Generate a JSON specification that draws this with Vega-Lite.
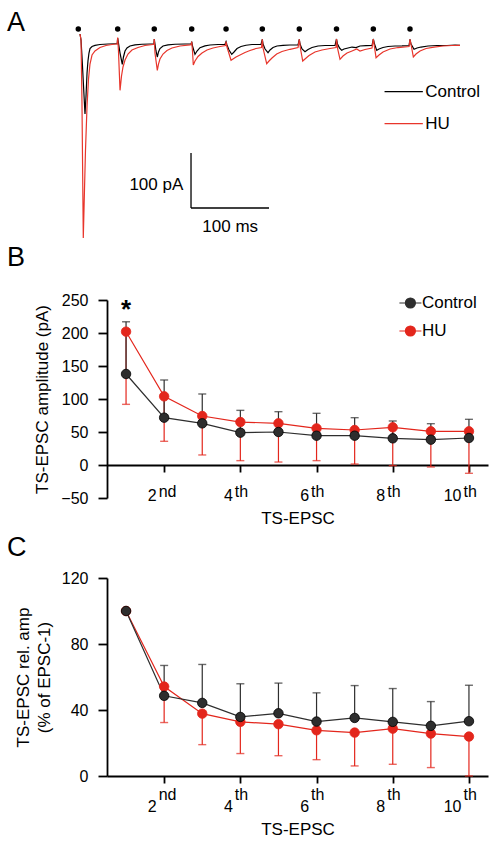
{
  "$schema": "https://vega.github.io/schema/vega-lite/v6.json",
  "background": "white",
  "padding": {"left": 7, "top": 9, "right": 5, "bottom": 3},
  "bounds": "flush",
  "spacing": 80,
  "resolve": {"scale": {"color": "independent"}, "legend": {"color": "independent"}},
  "config": {
    "view": {"stroke": null},
    "font": "Liberation Sans",
    "axis": {"grid": false, "domainColor": "#000", "tickColor": "#000", "labelColor": "#000", "titleColor": "#000", "labelFont": "Liberation Sans", "titleFont": "Liberation Sans", "labelFontSize": 16, "titleFontSize": 17, "titleFontWeight": "normal", "domainWidth": 1.8, "tickWidth": 1.8, "labelFlush": false, "labelOverlap": false},
    "legend": {"labelFont": "Liberation Sans", "labelFontSize": 17, "labelColor": "#000", "symbolOpacity": 1},
    "title": {"font": "Liberation Sans", "fontSize": 27, "fontWeight": "normal", "color": "#000", "anchor": "start", "frame": "group", "offset": 0, "baseline": "alphabetic"},
    "text": {"font": "Liberation Sans", "color": "#000"}
  },
  "datasets": {
    "trace": [
      {"g":"Control","t":2.2,"i":18.2},{"g":"Control","t":3.5,"i":7.3},{"g":"Control","t":4.7,"i":-21.8},{"g":"Control","t":6.7,"i":-76.4},{"g":"Control","t":8.6,"i":-127.3},{"g":"Control","t":9.9,"i":-94.5},{"g":"Control","t":11.2,"i":-52.7},{"g":"Control","t":12.4,"i":-30.9},{"g":"Control","t":13.7,"i":-16.4},{"g":"Control","t":15.0,"i":-8.2},{"g":"Control","t":17.6,"i":-4.5},{"g":"Control","t":21.4,"i":-2.4},{"g":"Control","t":27.8,"i":-0.9},{"g":"Control","t":38.1,"i":0},{"g":"Control","t":48.3,"i":0.5},
      {"g":"Control","t":49.9,"i":0.5},{"g":"Control","t":50.5,"i":10.9},{"g":"Control","t":51.5,"i":1.8},{"g":"Control","t":53.5,"i":-16.4},{"g":"Control","t":56.4,"i":-36.9},{"g":"Control","t":57.9,"i":-23.6},{"g":"Control","t":59.9,"i":-12.7},{"g":"Control","t":62.4,"i":-7.3},{"g":"Control","t":66.3,"i":-3.6},{"g":"Control","t":72.7,"i":-1.5},{"g":"Control","t":81.7,"i":-0.4},{"g":"Control","t":91.9,"i":0},{"g":"Control","t":97.0,"i":0},
      {"g":"Control","t":97.4,"i":9.1},{"g":"Control","t":98.3,"i":0},{"g":"Control","t":99.6,"i":-12.7},{"g":"Control","t":101.3,"i":-23.6},{"g":"Control","t":102.8,"i":-14.5},{"g":"Control","t":104.7,"i":-8.2},{"g":"Control","t":108.6,"i":-3.6},{"g":"Control","t":115.0,"i":-1.5},{"g":"Control","t":124.0,"i":-0.4},{"g":"Control","t":136.8,"i":0},{"g":"Control","t":144.5,"i":0},
      {"g":"Control","t":144.7,"i":0},{"g":"Control","t":145.4,"i":4.2},{"g":"Control","t":146.4,"i":-3.6},{"g":"Control","t":149.6,"i":-18.7},{"g":"Control","t":152.2,"i":-12.7},{"g":"Control","t":156.0,"i":-6.7},{"g":"Control","t":162.4,"i":-3.3},{"g":"Control","t":168.8,"i":-1.8},{"g":"Control","t":179.1,"i":-0.9},{"g":"Control","t":188.1,"i":-0.5},
      {"g":"Control","t":189.4,"i":4.2},{"g":"Control","t":190.6,"i":-1.8},{"g":"Control","t":193.2,"i":-10.9},{"g":"Control","t":196.7,"i":-18.7},{"g":"Control","t":199.6,"i":-14.5},{"g":"Control","t":203.5,"i":-8.2},{"g":"Control","t":208.6,"i":-4.5},{"g":"Control","t":215.0,"i":-2.2},{"g":"Control","t":222.7,"i":-0.9},{"g":"Control","t":234.2,"i":-0.9},
      {"g":"Control","t":235.9,"i":8.5},{"g":"Control","t":236.8,"i":0},{"g":"Control","t":239.4,"i":-9.1},{"g":"Control","t":243.2,"i":-15.8},{"g":"Control","t":245.8,"i":-10.9},{"g":"Control","t":249.6,"i":-6.4},{"g":"Control","t":254.7,"i":-3.6},{"g":"Control","t":262.4,"i":-2.4},{"g":"Control","t":271.4,"i":-1.8},{"g":"Control","t":281.7,"i":-1.8},
      {"g":"Control","t":283.3,"i":8.5},{"g":"Control","t":284.2,"i":0},{"g":"Control","t":286.8,"i":-9.1},{"g":"Control","t":290.6,"i":-14},{"g":"Control","t":294.5,"i":-10},{"g":"Control","t":299.6,"i":-6.4},{"g":"Control","t":307.3,"i":-3.6},{"g":"Control","t":316.3,"i":-2.7},{"g":"Control","t":329.1,"i":-2.4},
      {"g":"Control","t":331.0,"i":9.1},{"g":"Control","t":332.3,"i":0},{"g":"Control","t":334.9,"i":-7.3},{"g":"Control","t":337.7,"i":-11.5},{"g":"Control","t":340.6,"i":-9.1},{"g":"Control","t":345.8,"i":-7.3},{"g":"Control","t":350.9,"i":-5.5},{"g":"Control","t":356.0,"i":-6.4},{"g":"Control","t":361.1,"i":-3.6},{"g":"Control","t":368.8,"i":-3.1},{"g":"Control","t":376.5,"i":-2.7},
      {"g":"Control","t":378.2,"i":9.1},{"g":"Control","t":379.7,"i":0},{"g":"Control","t":382.6,"i":-11.5},{"g":"Control","t":385.5,"i":-9.1},{"g":"Control","t":390.6,"i":-6.4},{"g":"Control","t":397.0,"i":-4.5},{"g":"Control","t":406.0,"i":-3.6},{"g":"Control","t":415.0,"i":-3.3},{"g":"Control","t":424.0,"i":-2.7},
      {"g":"Control","t":425.2,"i":8.5},{"g":"Control","t":426.5,"i":0},{"g":"Control","t":430.4,"i":-9.6},{"g":"Control","t":434.2,"i":-7.3},{"g":"Control","t":439.3,"i":-5.5},{"g":"Control","t":448.3,"i":-3.6},{"g":"Control","t":459.9,"i":-2.7},{"g":"Control","t":472.7,"i":-2.7},{"g":"Control","t":482.9,"i":-1.8},{"g":"Control","t":489.3,"i":-2.4},
      {"g":"HU","t":2.2,"i":18.2},{"g":"HU","t":3.5,"i":7.3},{"g":"HU","t":4.7,"i":-103.6},{"g":"HU","t":6.4,"i":-352.7},{"g":"HU","t":7.9,"i":-267.2},{"g":"HU","t":9.2,"i":-194.5},{"g":"HU","t":11.2,"i":-112.7},{"g":"HU","t":13.1,"i":-63.6},{"g":"HU","t":15.0,"i":-36.4},{"g":"HU","t":17.6,"i":-20},{"g":"HU","t":21.4,"i":-12.7},{"g":"HU","t":27.8,"i":-6.4},{"g":"HU","t":35.5,"i":-2.7},{"g":"HU","t":43.2,"i":-0.9},{"g":"HU","t":48.3,"i":0},
      {"g":"HU","t":49.9,"i":0},{"g":"HU","t":50.5,"i":11.8},{"g":"HU","t":51.5,"i":-12.7},{"g":"HU","t":53.5,"i":-84.2},{"g":"HU","t":55.4,"i":-58.2},{"g":"HU","t":57.3,"i":-41.8},{"g":"HU","t":59.9,"i":-29.1},{"g":"HU","t":63.7,"i":-18.2},{"g":"HU","t":68.8,"i":-10.9},{"g":"HU","t":76.5,"i":-6.4},{"g":"HU","t":85.5,"i":-2.7},{"g":"HU","t":95.8,"i":-0.9},
      {"g":"HU","t":96.8,"i":-0.9},{"g":"HU","t":97.4,"i":9.1},{"g":"HU","t":98.3,"i":-16.4},{"g":"HU","t":101.3,"i":-47.8},{"g":"HU","t":102.8,"i":-36.4},{"g":"HU","t":104.7,"i":-27.3},{"g":"HU","t":108.6,"i":-18.2},{"g":"HU","t":113.7,"i":-11.8},{"g":"HU","t":120.1,"i":-7.3},{"g":"HU","t":130.4,"i":-3.6},{"g":"HU","t":143.2,"i":-1.5},
      {"g":"HU","t":144.7,"i":-0.9},{"g":"HU","t":145.4,"i":4.2},{"g":"HU","t":146.4,"i":-12.7},{"g":"HU","t":147.4,"i":-38.2},{"g":"HU","t":149.6,"i":-30.9},{"g":"HU","t":153.5,"i":-22.7},{"g":"HU","t":158.6,"i":-16.4},{"g":"HU","t":165.0,"i":-10.9},{"g":"HU","t":172.7,"i":-7.3},{"g":"HU","t":181.7,"i":-4.5},{"g":"HU","t":188.7,"i":-2.7},
      {"g":"HU","t":189.4,"i":4.2},{"g":"HU","t":190.6,"i":-5.5},{"g":"HU","t":195.8,"i":-29.6},{"g":"HU","t":198.3,"i":-27.3},{"g":"HU","t":202.2,"i":-23.6},{"g":"HU","t":207.3,"i":-20},{"g":"HU","t":213.7,"i":-15.5},{"g":"HU","t":220.1,"i":-11.8},{"g":"HU","t":227.8,"i":-8.2},{"g":"HU","t":234.9,"i":-6.4},
      {"g":"HU","t":235.9,"i":8.5},{"g":"HU","t":236.8,"i":-7.3},{"g":"HU","t":241.5,"i":-35.8},{"g":"HU","t":244.5,"i":-30.9},{"g":"HU","t":248.3,"i":-25.5},{"g":"HU","t":254.3,"i":-18.2},{"g":"HU","t":261.1,"i":-13.6},{"g":"HU","t":271.4,"i":-9.6},{"g":"HU","t":281.7,"i":-6.4},
      {"g":"HU","t":283.3,"i":8.5},{"g":"HU","t":284.9,"i":-9.1},{"g":"HU","t":287.7,"i":-30.9},{"g":"HU","t":290.6,"i":-27.3},{"g":"HU","t":295.8,"i":-20.9},{"g":"HU","t":303.4,"i":-14.5},{"g":"HU","t":312.4,"i":-10.9},{"g":"HU","t":322.7,"i":-8.2},{"g":"HU","t":330.4,"i":-6.4},
      {"g":"HU","t":331.0,"i":9.1},{"g":"HU","t":332.3,"i":-7.3},{"g":"HU","t":335.5,"i":-27.8},{"g":"HU","t":339.3,"i":-21.8},{"g":"HU","t":344.5,"i":-16.4},{"g":"HU","t":350.9,"i":-12.7},{"g":"HU","t":356.9,"i":-9.1},{"g":"HU","t":361.1,"i":-12.7},{"g":"HU","t":367.5,"i":-10},{"g":"HU","t":376.5,"i":-7.3},
      {"g":"HU","t":378.2,"i":9.1},{"g":"HU","t":379.7,"i":-5.5},{"g":"HU","t":381.7,"i":-24.9},{"g":"HU","t":385.5,"i":-20},{"g":"HU","t":390.6,"i":-14.5},{"g":"HU","t":399.6,"i":-9.1},{"g":"HU","t":409.9,"i":-6.4},{"g":"HU","t":424.0,"i":-4.5},
      {"g":"HU","t":425.2,"i":8.5},{"g":"HU","t":427.2,"i":-5.5},{"g":"HU","t":429.5,"i":-23.6},{"g":"HU","t":432.9,"i":-18.2},{"g":"HU","t":438.1,"i":-12.7},{"g":"HU","t":445.8,"i":-8.2},{"g":"HU","t":456.0,"i":-5.5},{"g":"HU","t":467.6,"i":-3.6},{"g":"HU","t":479.1,"i":-2.7},{"g":"HU","t":489.3,"i":-2.4}
    ],
    "stim": [{"s":0},{"s":50.5},{"s":97.4},{"s":145.4},{"s":189.4},{"s":235.9},{"s":283.3},{"s":331.0},{"s":378.2},{"s":425.2}],
    "amp": [
      {"n":1,"g":"HU","m":202,"e":91.9},{"n":2,"g":"HU","m":104,"e":35.9},{"n":3,"g":"HU","m":74.2,"e":15.2},{"n":4,"g":"HU","m":65.1,"e":6.6},{"n":5,"g":"HU","m":63.1,"e":4.5},{"n":6,"g":"HU","m":55.5,"e":6.6},{"n":7,"g":"HU","m":53,"e":1.5},{"n":8,"g":"HU","m":57.1,"e":-1},{"n":9,"g":"HU","m":51,"e":-3},{"n":10,"g":"HU","m":51,"e":-12.6},
      {"n":1,"g":"Control","m":137.9,"e":217},{"n":2,"g":"Control","m":71.7,"e":128.8},{"n":3,"g":"Control","m":63.1,"e":107.6},{"n":4,"g":"Control","m":49,"e":82.8},{"n":5,"g":"Control","m":50,"e":80.8},{"n":6,"g":"Control","m":44.4,"e":78.3},{"n":7,"g":"Control","m":44.4,"e":71.7},{"n":8,"g":"Control","m":40.4,"e":66.7},{"n":9,"g":"Control","m":38.4,"e":62.6},{"n":10,"g":"Control","m":40.9,"e":69.2}
    ],
    "rel": [
      {"n":1,"g":"HU","m":100,"e":null},{"n":2,"g":"HU","m":54.2,"e":32.4},{"n":3,"g":"HU","m":37.8,"e":19},{"n":4,"g":"HU","m":32.8,"e":13.6},{"n":5,"g":"HU","m":31.4,"e":12.3},{"n":6,"g":"HU","m":27.7,"e":9.9},{"n":7,"g":"HU","m":26.3,"e":6.1},{"n":8,"g":"HU","m":28.7,"e":7.1},{"n":9,"g":"HU","m":25.7,"e":5.1},{"n":10,"g":"HU","m":23.9,"e":0},
      {"n":1,"g":"Control","m":100,"e":null},{"n":2,"g":"Control","m":48.6,"e":67},{"n":3,"g":"Control","m":44.3,"e":67.6},{"n":4,"g":"Control","m":35.8,"e":55.9},{"n":5,"g":"Control","m":38.0,"e":56.3},{"n":6,"g":"Control","m":33.0,"e":50.4},{"n":7,"g":"Control","m":35.2,"e":54.8},{"n":8,"g":"Control","m":32.8,"e":53},{"n":9,"g":"Control","m":30.4,"e":45.1},{"n":10,"g":"Control","m":33.2,"e":55}
    ]
  },
  "vconcat": [
    {
      "width": 381,
      "height": 191,
      "title": {"text": "A", "dx": -100, "dy": 15},
      "layer": [
        {
          "data": {"name": "trace"},
          "mark": {"type": "line", "strokeWidth": 1.2},
          "encoding": {
            "x": {"field": "t", "type": "quantitative", "scale": {"domain": [36.8, 525.2], "nice": false, "zero": false}, "axis": null},
            "y": {"field": "i", "type": "quantitative", "scale": {"domain": [-320, 27.3], "nice": false, "zero": false}, "axis": null},
            "color": {"field": "g", "type": "nominal", "scale": {"domain": ["Control", "HU"], "range": ["#000000", "#e8352b"]},
              "legend": {"title": null, "orient": "none", "legendX": 288.2, "legendY": 54.2, "padding": 0, "symbolType": "M-3.83,0H3.83", "symbolSize": 100, "symbolStrokeWidth": 1.3, "labelOffset": 13, "rowPadding": 14, "labelFontSize": 17,
                "encode": {"symbols": {"update": {"stroke": {"signal": "datum.value === 'HU' ? '#e8352b' : '#000000'"}, "fill": {"value": "transparent"}}}}}}
          }
        },
        {
          "data": {"name": "stim"},
          "mark": {"type": "point", "filled": true, "size": 30, "color": "#000", "opacity": 1},
          "encoding": {
            "x": {"field": "s", "type": "quantitative", "scale": {"domain": [36.8, 525.2], "nice": false, "zero": false}, "axis": null},
            "y": {"datum": 27.3, "type": "quantitative", "scale": {"domain": [-320, 27.3], "nice": false, "zero": false}, "axis": null}
          }
        },
        {
          "data": {"values": [{"x1": 144.5, "x2": 144.5, "y1": -198.2, "y2": -298.2}, {"x1": 144.5, "x2": 244.5, "y1": -298.2, "y2": -298.2}]},
          "mark": {"type": "rule", "strokeWidth": 1.3, "color": "#000"},
          "encoding": {
            "x": {"field": "x1", "type": "quantitative", "scale": {"domain": [36.8, 525.2], "nice": false, "zero": false}, "axis": null},
            "x2": {"field": "x2"},
            "y": {"field": "y1", "type": "quantitative", "scale": {"domain": [-320, 27.3], "nice": false, "zero": false}, "axis": null},
            "y2": {"field": "y2"}
          }
        },
        {
          "data": {"values": [{"label": "100 pA", "t": 134.6, "i": -257}]},
          "mark": {"type": "text", "align": "right", "baseline": "middle", "fontSize": 17},
          "encoding": {
            "x": {"field": "t", "type": "quantitative", "scale": {"domain": [36.8, 525.2], "nice": false, "zero": false}, "axis": null},
            "y": {"field": "i", "type": "quantitative", "scale": {"domain": [-320, 27.3], "nice": false, "zero": false}, "axis": null},
            "text": {"field": "label"}
          }
        },
        {
          "data": {"values": [{"label": "100 ms", "t": 194.7, "i": -332}]},
          "mark": {"type": "text", "align": "center", "baseline": "middle", "fontSize": 17},
          "encoding": {
            "x": {"field": "t", "type": "quantitative", "scale": {"domain": [36.8, 525.2], "nice": false, "zero": false}, "axis": null},
            "y": {"field": "i", "type": "quantitative", "scale": {"domain": [-320, 27.3], "nice": false, "zero": false}, "axis": null},
            "text": {"field": "label"}
          }
        }
      ]
    },
    {
      "width": 381,
      "height": 198,
      "title": {"text": "B", "dx": -100, "dy": -16.4},
      "data": {"name": "amp"},
      "resolve": {"axis": {"x": "independent"}},
      "layer": [
        {
          "mark": {"type": "rule", "strokeWidth": 1.2},
          "encoding": {
            "x": {"field": "n", "type": "quantitative", "scale": {"domain": [0.5, 10.5], "nice": false, "zero": false}, "axis": null},
            "y": {"field": "m", "type": "quantitative", "scale": {"domain": [-50, 250], "nice": false, "zero": false}, "title": "TS-EPSC amplitude (pA)",
              "axis": {"values": [-50, 0, 50, 100, 150, 200, 250], "tickSize": 9, "labelPadding": 10, "titlePadding": 9, "labelOverlap": false, "labelFontSize": 16}},
            "y2": {"field": "e"},
            "color": {"field": "g", "type": "nominal", "scale": {"domain": ["Control", "HU"], "range": ["#2e2e2e", "#e3261c"]}}
          }
        },
        {
          "mark": {"type": "tick", "orient": "horizontal", "size": 8, "thickness": 1.4},
          "encoding": {
            "x": {"field": "n", "type": "quantitative", "scale": {"domain": [0.5, 10.5], "nice": false, "zero": false}, "axis": null},
            "y": {"field": "e", "type": "quantitative", "scale": {"domain": [-50, 250], "nice": false, "zero": false}, "title": "TS-EPSC amplitude (pA)",
              "axis": {"values": [-50, 0, 50, 100, 150, 200, 250], "tickSize": 9, "labelPadding": 10, "titlePadding": 9, "labelOverlap": false, "labelFontSize": 16}},
            "color": {"field": "g", "type": "nominal", "scale": {"domain": ["Control", "HU"], "range": ["#2e2e2e", "#e3261c"]}}
          }
        },
        {
          "mark": {"type": "line", "strokeWidth": 1.2},
          "encoding": {
            "x": {"field": "n", "type": "quantitative", "scale": {"domain": [0.5, 10.5], "nice": false, "zero": false},
              "axis": {"orient": "bottom", "offset": -33, "values": [2, 4, 6, 8, 10], "tickSize": 7, "labelPadding": 28, "labelBaseline": "alphabetic", "labelAlign": "right", "labelOffset": -8, "labelFontSize": 16, "labelOverlap": false, "title": "TS-EPSC", "titleY": 58.4, "titleBaseline": "alphabetic"}},
            "y": {"field": "m", "type": "quantitative", "scale": {"domain": [-50, 250], "nice": false, "zero": false}, "title": "TS-EPSC amplitude (pA)",
              "axis": {"values": [-50, 0, 50, 100, 150, 200, 250], "tickSize": 9, "labelPadding": 10, "titlePadding": 9, "labelOverlap": false, "labelFontSize": 16}},
            "color": {"field": "g", "type": "nominal", "scale": {"domain": ["Control", "HU"], "range": ["#2e2e2e", "#e3261c"]}}
          }
        },
        {
          "mark": {"type": "point", "filled": true, "size": 90, "opacity": 1, "strokeWidth": 0.8},
          "encoding": {
            "x": {"field": "n", "type": "quantitative", "scale": {"domain": [0.5, 10.5], "nice": false, "zero": false}, "axis": null},
            "y": {"field": "m", "type": "quantitative", "scale": {"domain": [-50, 250], "nice": false, "zero": false}, "title": "TS-EPSC amplitude (pA)",
              "axis": {"values": [-50, 0, 50, 100, 150, 200, 250], "tickSize": 9, "labelPadding": 10, "titlePadding": 9, "labelOverlap": false, "labelFontSize": 16}},
            "color": {"field": "g", "type": "nominal", "scale": {"domain": ["Control", "HU"], "range": ["#2e2e2e", "#e3261c"]},
              "legend": {"title": null, "orient": "none", "legendX": 294.9, "legendY": -5.5, "padding": 0, "symbolType": "M-2.2,0H-1M1,0H2.2M-1,0A1,1,0,1,0,1,0A1,1,0,1,0,-1,0Z", "symbolSize": 100, "symbolStrokeWidth": 1.2, "symbolOpacity": 1, "labelOffset": 3, "rowPadding": 10, "labelFontSize": 17,
                "encode": {"symbols": {"update": {"opacity": {"value": 1}, "fill": {"signal": "datum.value === 'HU' ? '#e3261c' : '#2e2e2e'"}, "stroke": {"signal": "datum.value === 'HU' ? '#e3261c' : '#000000'"}}}}}},
            "stroke": {"field": "g", "type": "nominal", "scale": {"domain": ["Control", "HU"], "range": ["#000000", "#e3261c"]}, "legend": null}
          }
        },
        {
          "data": {"values": [{"n": 1, "s": "*"}]},
          "mark": {"type": "text", "fontSize": 26, "fontWeight": "bold", "align": "center", "baseline": "alphabetic"},
          "encoding": {
            "x": {"field": "n", "type": "quantitative", "scale": {"domain": [0.5, 10.5], "nice": false, "zero": false},
              "axis": {"orient": "bottom", "offset": -33, "values": [2, 4, 6, 8, 10], "domain": false, "ticks": false, "tickSize": 7, "labelPadding": 31, "labelBaseline": "alphabetic", "labelAlign": "left", "labelOffset": -6, "labelFontSize": 16, "labelOverlap": false, "labelExpr": "datum.value == 2 ? 'nd' : (datum.value == 10 ? '\u00a0th' : 'th')", "title": null}},
            "y": {"datum": 222, "type": "quantitative", "scale": {"domain": [-50, 250], "nice": false, "zero": false}, "title": "TS-EPSC amplitude (pA)",
              "axis": {"values": [-50, 0, 50, 100, 150, 200, 250], "tickSize": 9, "labelPadding": 10, "titlePadding": 9, "labelOverlap": false, "labelFontSize": 16}},
            "text": {"field": "s"}
          }
        }
      ]
    },
    {
      "width": 381,
      "height": 198,
      "title": {"text": "C", "dx": -100, "dy": -4},
      "data": {"name": "rel"},
      "resolve": {"axis": {"x": "independent"}},
      "layer": [
        {
          "transform": [{"filter": "isValid(datum.e)"}],
          "mark": {"type": "rule", "strokeWidth": 1.2},
          "encoding": {
            "x": {"field": "n", "type": "quantitative", "scale": {"domain": [0.5, 10.5], "nice": false, "zero": false}, "axis": null},
            "y": {"field": "m", "type": "quantitative", "scale": {"domain": [0, 120], "nice": false, "zero": false}, "title": ["TS-EPSC rel. amp", "(% of EPSC-1)"],
              "axis": {"values": [0, 40, 80, 120], "tickSize": 9, "labelPadding": 10, "titlePadding": 7.5, "titleLineHeight": 21.6, "labelOverlap": false, "labelFontSize": 16}},
            "y2": {"field": "e"},
            "color": {"field": "g", "type": "nominal", "scale": {"domain": ["Control", "HU"], "range": ["#2e2e2e", "#e3261c"]}, "legend": null}
          }
        },
        {
          "transform": [{"filter": "isValid(datum.e)"}],
          "mark": {"type": "tick", "orient": "horizontal", "size": 8, "thickness": 1.4},
          "encoding": {
            "x": {"field": "n", "type": "quantitative", "scale": {"domain": [0.5, 10.5], "nice": false, "zero": false}, "axis": null},
            "y": {"field": "e", "type": "quantitative", "scale": {"domain": [0, 120], "nice": false, "zero": false}, "title": ["TS-EPSC rel. amp", "(% of EPSC-1)"],
              "axis": {"values": [0, 40, 80, 120], "tickSize": 9, "labelPadding": 10, "titlePadding": 7.5, "titleLineHeight": 21.6, "labelOverlap": false, "labelFontSize": 16}},
            "color": {"field": "g", "type": "nominal", "scale": {"domain": ["Control", "HU"], "range": ["#2e2e2e", "#e3261c"]}, "legend": null}
          }
        },
        {
          "mark": {"type": "line", "strokeWidth": 1.2},
          "encoding": {
            "x": {"field": "n", "type": "quantitative", "scale": {"domain": [0.5, 10.5], "nice": false, "zero": false},
              "axis": {"orient": "bottom", "values": [2, 4, 6, 8, 10], "tickSize": 7, "labelPadding": 28, "labelBaseline": "alphabetic", "labelAlign": "right", "labelOffset": -8, "labelFontSize": 16, "labelOverlap": false, "title": "TS-EPSC", "titleY": 58.3, "titleBaseline": "alphabetic"}},
            "y": {"field": "m", "type": "quantitative", "scale": {"domain": [0, 120], "nice": false, "zero": false}, "title": ["TS-EPSC rel. amp", "(% of EPSC-1)"],
              "axis": {"values": [0, 40, 80, 120], "tickSize": 9, "labelPadding": 10, "titlePadding": 7.5, "titleLineHeight": 21.6, "labelOverlap": false, "labelFontSize": 16}},
            "color": {"field": "g", "type": "nominal", "scale": {"domain": ["Control", "HU"], "range": ["#2e2e2e", "#e3261c"]}, "legend": null}
          }
        },
        {
          "mark": {"type": "point", "filled": true, "size": 90, "opacity": 1, "strokeWidth": 0.8},
          "encoding": {
            "x": {"field": "n", "type": "quantitative", "scale": {"domain": [0.5, 10.5], "nice": false, "zero": false},
              "axis": {"orient": "bottom", "values": [2, 4, 6, 8, 10], "domain": false, "ticks": false, "tickSize": 7, "labelPadding": 23.5, "labelBaseline": "alphabetic", "labelAlign": "left", "labelOffset": -6, "labelFontSize": 16, "labelOverlap": false, "labelExpr": "datum.value == 2 ? 'nd' : (datum.value == 10 ? '\u00a0th' : 'th')", "title": null}},
            "y": {"field": "m", "type": "quantitative", "scale": {"domain": [0, 120], "nice": false, "zero": false}, "title": ["TS-EPSC rel. amp", "(% of EPSC-1)"],
              "axis": {"values": [0, 40, 80, 120], "tickSize": 9, "labelPadding": 10, "titlePadding": 7.5, "titleLineHeight": 21.6, "labelOverlap": false, "labelFontSize": 16}},
            "color": {"field": "g", "type": "nominal", "scale": {"domain": ["Control", "HU"], "range": ["#2e2e2e", "#e3261c"]}, "legend": null},
            "stroke": {"field": "g", "type": "nominal", "scale": {"domain": ["Control", "HU"], "range": ["#000000", "#e3261c"]}, "legend": null}
          }
        }
      ]
    }
  ]
}
